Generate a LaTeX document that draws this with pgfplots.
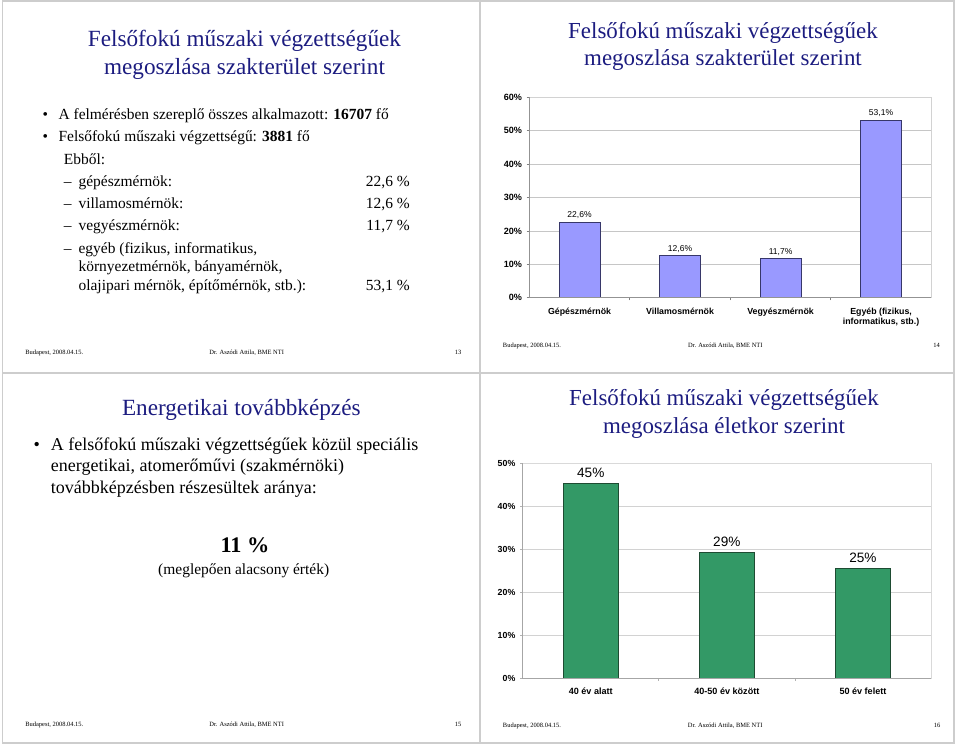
\documentclass[border=0pt]{standalone}
\usepackage{fontspec}
\setmainfont{Liberation Serif}
\newfontfamily\arial{Liberation Sans}
\usepackage{pgfplots}
\pgfplotsset{compat=1.18}
\definecolor{titleblue}{RGB}{28,28,128}
\definecolor{lav}{RGB}{153,153,255}
\definecolor{lavedge}{RGB}{55,55,105}
\definecolor{grn}{RGB}{51,153,102}
\definecolor{grnedge}{RGB}{30,75,50}
\definecolor{slideline}{RGB}{205,205,205}
\newcommand{\fs}[2]{\fontsize{#1}{#2}\selectfont}
\begin{document}
\begin{tikzpicture}[x=0.75pt,y=0.75pt]
\path[use as bounding box] (0,0) rectangle (960,746);
% slide borders
\draw[slideline, line width=0.9pt] (2.5,745) rectangle (954,3);
\draw[slideline, line width=0.9pt] (480,745) -- (480,3);
\draw[slideline, line width=0.9pt] (2.5,373) -- (954,373);

% ---------- slide 13 (top left)
\begin{scope}[every node/.style={inner sep=0pt}]
\node[anchor=base, text=titleblue, font=\fs{17.4}{21}] at (244.5,699) {Felsőfokú műszaki végzettségűek};
\node[anchor=base, text=titleblue, font=\fs{17.4}{21}] at (244.5,671) {megoszlása szakterület szerint};
\node[anchor=base west, font=\fs{11.6}{14}] at (42.3,626.7) {•};
\node[anchor=base west, font=\fs{11.6}{14}] at (58.3,626.7) {A felmérésben szereplő összes alkalmazott: \textbf{16707} fő};
\node[anchor=base west, font=\fs{11.6}{14}] at (42.3,604.3) {•};
\node[anchor=base west, font=\fs{11.6}{14}] at (58.3,604.3) {Felsőfokú műszaki végzettségű: \textbf{3881} fő};
\node[anchor=base west, font=\fs{11.6}{14}] at (63.7,581.7) {Ebből:};
\node[anchor=base west, font=\fs{11.6}{14}] at (63.7,559.3) {–};
\node[anchor=base west, font=\fs{11.6}{14}] at (78.3,559.3) {gépészmérnök:};
\node[anchor=base west, font=\fs{11.6}{14}] at (63.7,537) {–};
\node[anchor=base west, font=\fs{11.6}{14}] at (78.3,537) {villamosmérnök:};
\node[anchor=base west, font=\fs{11.6}{14}] at (63.7,515) {–};
\node[anchor=base west, font=\fs{11.6}{14}] at (78.3,515) {vegyészmérnök:};
\node[anchor=base west, font=\fs{11.6}{14}] at (63.7,492.7) {–};
\node[anchor=base west, font=\fs{11.6}{14}] at (78.3,492.7) {egyéb (fizikus, informatikus,};
\node[anchor=base west, font=\fs{11.6}{14}] at (78.3,474.3) {környezetmérnök, bányamérnök,};
\node[anchor=base west, font=\fs{11.6}{14}] at (78.3,455.3) {olajipari mérnök, építőmérnök, stb.):};
\node[anchor=base east, font=\fs{11.6}{14}] at (410,559.3) {22,6 \%};
\node[anchor=base east, font=\fs{11.6}{14}] at (410,537) {12,6 \%};
\node[anchor=base east, font=\fs{11.6}{14}] at (410,515) {11,7 \%};
\node[anchor=base east, font=\fs{11.6}{14}] at (410,455.3) {53,1 \%};
\node[anchor=base west, font=\fs{4.85}{6}] at (25,391.5) {Budapest, 2008.04.15.};
\node[anchor=base, font=\fs{4.85}{6}] at (246.7,391.5) {Dr. Aszódi Attila, BME NTI};
\node[anchor=base east, font=\fs{4.85}{6}] at (461.7,391.5) {13};

% ---------- slide 14 (top right)
\node[anchor=base, text=titleblue, font=\fs{17.2}{21}] at (723,707.7) {Felsőfokú műszaki végzettségűek};
\node[anchor=base, text=titleblue, font=\fs{17.2}{21}] at (723,680.3) {megoszlása szakterület szerint};
\node[anchor=base west, font=\fs{4.85}{6}] at (502.7,398) {Budapest, 2008.04.15.};
\node[anchor=base, font=\fs{4.85}{6}] at (725.3,398) {Dr. Aszódi Attila, BME NTI};
\node[anchor=base east, font=\fs{4.85}{6}] at (940,398) {14};

% ---------- slide 15 (bottom left)
\node[anchor=base, text=titleblue, font=\fs{17.4}{21}] at (241.3,330.3) {Energetikai továbbképzés};
\node[anchor=base west, font=\fs{13.5}{16}] at (33.3,295) {•};
\node[anchor=base west, font=\fs{13.5}{16}] at (50.7,295) {A felsőfokú műszaki végzettségűek közül speciális};
\node[anchor=base west, font=\fs{13.5}{16}] at (50.7,274.3) {energetikai, atomerőművi (szakmérnöki)};
\node[anchor=base west, font=\fs{13.5}{16}] at (50.7,252.7) {továbbképzésben részesültek aránya:};
\node[anchor=base, font=\fs{16.7}{20}\bfseries] at (245,193.3) {11 \%};
\node[anchor=base, font=\fs{11.6}{14}] at (243.7,171) {(meglepően alacsony érték)};
\node[anchor=base west, font=\fs{4.85}{6}] at (25,19.5) {Budapest, 2008.04.15.};
\node[anchor=base, font=\fs{4.85}{6}] at (246.7,19.5) {Dr. Aszódi Attila, BME NTI};
\node[anchor=base east, font=\fs{4.85}{6}] at (461.7,19.5) {15};

% ---------- slide 16 (bottom right)
\node[anchor=base, text=titleblue, font=\fs{17.2}{21}] at (724,340) {Felsőfokú műszaki végzettségűek};
\node[anchor=base, text=titleblue, font=\fs{17.2}{21}] at (724,312.7) {megoszlása életkor szerint};
\node[anchor=base west, font=\fs{4.85}{6}] at (502.7,19) {Budapest, 2008.04.15.};
\node[anchor=base, font=\fs{4.85}{6}] at (725.2,19) {Dr. Aszódi Attila, BME NTI};
\node[anchor=base east, font=\fs{4.85}{6}] at (940.5,19) {16};
\end{scope}

% ---------- chart slide 14
\begin{axis}[
  at={(396.98pt,336.23pt)}, anchor=south west,
  scale only axis, width=301.5pt, height=150.3pt,
  xmin=-0.5, xmax=3.5, ymin=0, ymax=60,
  ybar, bar width=30.8pt,
  /pgf/number format/assume math mode=true,
  ytick={0,10,...,60},
  yticklabels={0\%,10\%,20\%,30\%,40\%,50\%,60\%},
  xtick={0.5,1.5,2.5}, xticklabels={},
  extra x ticks={0,1,2,3},
  extra x tick labels={Gépészmérnök,Villamosmérnök,Vegyészmérnök,{Egyéb (fizikus,\\informatikus, stb.)}},
  extra x tick style={major tick length=0pt, tick label style={font=\arial\bfseries\fs{6.6}{7.6}, align=center, yshift=-4pt}},
  tick align=outside, tick pos=left, major tick length=2pt,
  tick style={gray, line width=0.5pt},
  ymajorgrids, major grid style={gray!45, line width=0.5pt},
  axis line style={gray!35, line width=0.5pt},
  y tick label style={font=\arial\bfseries\fs{6.8}{8}},
  nodes near coords, point meta=explicit symbolic,
  every node near coord/.append style={font=\arial\fs{6.4}{8}, text=black, yshift=-1pt},
  clip=false,
]
\addplot[fill=lav, draw=lavedge, line width=0.6pt]
  coordinates {(0,22.6) [22,6\%] (1,12.6) [12,6\%] (2,11.7) [11,7\%] (3,53.1) [53,1\%]};
\draw[gray!85, line width=0.6pt] (rel axis cs:0,1) -- (rel axis cs:0,0) -- (rel axis cs:1,0);
\end{axis}

% ---------- chart slide 16
\begin{axis}[
  at={(392.03pt,51pt)}, anchor=south west,
  scale only axis, width=306.2pt, height=161pt,
  xmin=-0.5, xmax=2.5, ymin=0, ymax=50,
  ybar, bar width=41pt,
  /pgf/number format/assume math mode=true,
  ytick={0,10,...,50},
  yticklabels={0\%,10\%,20\%,30\%,40\%,50\%},
  xtick={0.5,1.5}, xticklabels={},
  extra x ticks={0,1,2},
  extra x tick labels={40 év alatt,40-50 év között,50 év felett},
  extra x tick style={major tick length=0pt, tick label style={font=\arial\bfseries\fs{6.8}{8.2}, yshift=-3.5pt}},
  tick align=outside, tick pos=left, major tick length=2pt,
  tick style={gray!60, line width=0.5pt},
  ymajorgrids, major grid style={gray!35, line width=0.5pt},
  axis line style={gray!30, line width=0.5pt},
  y tick label style={font=\arial\bfseries\fs{6.6}{8}},
  nodes near coords, point meta=explicit symbolic,
  every node near coord/.append style={font=\arial\fs{10.2}{12}, text=black, yshift=0.5pt},
  clip=false,
]
\addplot[fill=grn, draw=grnedge, line width=0.6pt]
  coordinates {(0,45.4) [45\%] (1,29.3) [29\%] (2,25.5) [25\%]};
\draw[gray!70, line width=0.6pt] (rel axis cs:0,1) -- (rel axis cs:0,0) -- (rel axis cs:1,0);
\end{axis}
\end{tikzpicture}
\end{document}
